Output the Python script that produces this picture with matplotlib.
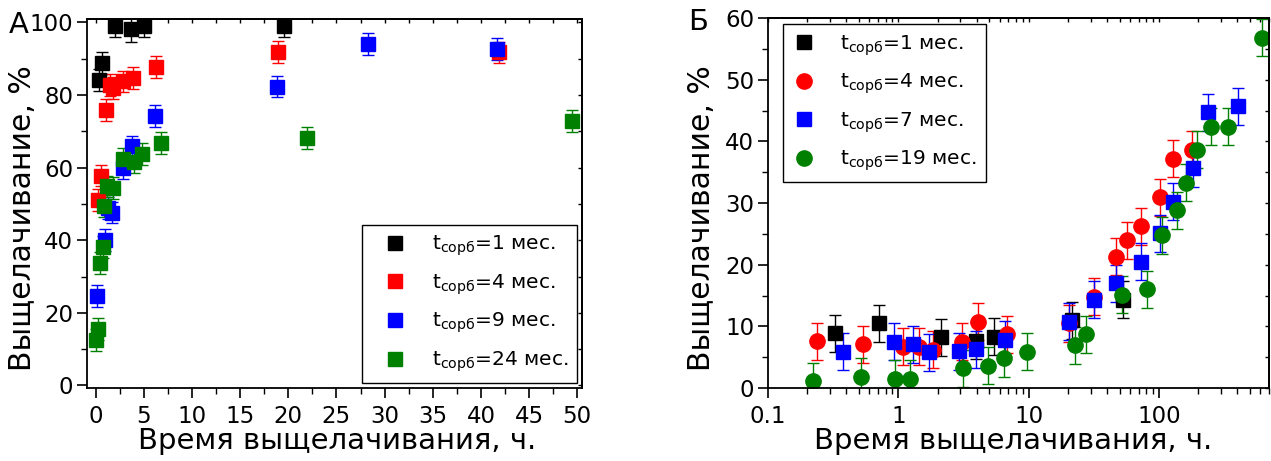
import matplotlib
matplotlib.use("Agg")
import matplotlib.pyplot as plt
from matplotlib.lines import Line2D
from matplotlib.ticker import MultipleLocator, LogLocator, NullFormatter, FixedLocator, FixedFormatter

plt.rcParams['font.family'] = ['DejaVu Sans']
plt.rcParams['mathtext.fontset'] = 'custom'
plt.rcParams['mathtext.rm'] = 'DejaVu Sans'
plt.rcParams['mathtext.it'] = 'DejaVu Sans'

# ---------------- Panel A data ----------------
a_labels = ["1 мес.", "4 мес.", "9 мес.", "24 мес."]
a_colors = ["black", "red", "blue", "green"]

a1_x = [0.34, 0.68, 2.0, 3.66, 4.97, 19.6]
a1_y = [84.0, 88.7, 99.0, 98.1, 99.0, 99.0]
a1_e = [3.0, 3.0, 3.0, 3.4, 3.0, 3.0]

a4_x = [0.27, 0.58, 1.07, 1.48, 1.83, 2.8, 3.9, 6.3, 18.9, 41.9]
a4_y = [51.1, 57.8, 75.9, 82.7, 81.8, 83.7, 84.6, 87.6, 91.9, 91.7]
a4_e = [3.0, 3.0, 3.0, 3.0, 3.0, 3.0, 3.0, 3.0, 3.0, 3.0]

a9_x = [0.17, 0.96, 1.3, 1.66, 2.8, 3.73, 6.15, 18.8, 28.3, 41.7]
a9_y = [24.7, 40.1, 48.9, 47.6, 59.8, 65.8, 74.3, 82.3, 94.1, 92.7]
a9_e = [3.0, 3.0, 3.0, 3.0, 3.0, 3.0, 3.0, 3.0, 3.0, 3.0]

a24_x = [0.03, 0.27, 0.45, 0.72, 0.86, 1.2, 1.82, 2.8, 4.0, 4.77, 6.77, 21.9, 49.5]
a24_y = [12.6, 15.6, 33.7, 38.1, 49.4, 54.8, 54.3, 62.3, 61.6, 63.8, 66.7, 68.2, 72.9]
a24_e = [3.0, 3.0, 3.0, 3.0, 3.0, 3.0, 3.0, 3.0, 3.0, 3.0, 3.0, 3.0, 3.0]

# ---------------- Panel B data ----------------
b_labels = ["1 мес.", "4 мес.", "7 мес.", "19 мес."]
b_colors = ["black", "red", "blue", "green"]
b_markers = ["s", "o", "s", "o"]

b1_x = [0.326, 0.71, 2.12, 3.94, 5.38, 21.6, 53.0]
b1_y = [8.9, 10.5, 8.2, 7.7, 8.3, 11.0, 14.3]
b1_e = [3.0, 3.0, 3.0, 3.0, 3.0, 3.0, 3.0]

b4_x = [0.238, 0.538, 1.09, 1.45, 1.86, 3.07, 4.12, 6.82, 20.3, 31.6, 47.0, 57.0, 72.5, 102.0, 128.0, 181.0]
b4_y = [7.6, 7.1, 6.7, 6.7, 6.2, 7.5, 10.75, 8.7, 10.5, 14.8, 21.3, 24.0, 26.2, 30.9, 37.2, 38.6]
b4_e = [3.0, 3.0, 3.0, 3.0, 3.0, 3.0, 3.0, 3.0, 3.0, 3.0, 3.0, 3.0, 3.0, 3.0, 3.0, 3.0]

b7_x = [0.377, 0.93, 1.29, 1.73, 2.9, 3.96, 6.62, 20.3, 31.6, 47.0, 72.5, 102.0, 128.0, 184.0, 240.0, 405.0]
b7_y = [5.9, 7.5, 7.1, 5.8, 6.0, 6.3, 7.8, 10.75, 14.3, 17.0, 20.5, 25.1, 30.2, 35.6, 44.7, 45.7]
b7_e = [3.0, 3.0, 3.0, 3.0, 3.0, 3.0, 3.0, 3.0, 3.0, 3.0, 3.0, 3.0, 3.0, 3.0, 3.0, 3.0]

b19_x = [0.222, 0.52, 0.944, 1.23, 3.16, 4.84, 6.53, 9.7, 22.9, 27.8, 52.5, 80.4, 105.0, 138.0, 162.0, 197.0, 253.0, 340.0, 624.0]
b19_y = [1.1, 1.8, 1.5, 1.5, 3.2, 3.6, 4.8, 5.9, 6.9, 8.7, 15.1, 16.0, 24.8, 28.8, 33.3, 38.6, 42.4, 42.4, 56.8]
b19_e = [3.0, 3.0, 3.0, 3.0, 3.0, 3.0, 3.0, 3.0, 3.0, 3.0, 3.0, 3.0, 3.0, 3.0, 3.0, 3.0, 3.0, 3.0, 3.0]

W, H = 1271, 461
fig = plt.figure(figsize=(W / 100, H / 100), dpi=100)

def rect(l, r, t, b):
    return [l / W, 1 - b / H, (r - l) / W, (b - t) / H]

axA = fig.add_axes(rect(87, 582, 19, 388))
axB = fig.add_axes(rect(768, 1269, 18, 388))

TICK_FS = 16.5
XLAB_FS = 21
YLAB_FS = 21.5
LEG_FS = 14.5

def style(ax):
    for s in ax.spines.values():
        s.set_linewidth(1.3)
    ax.tick_params(which='major', direction='out', length=7, width=1.2,
                   labelsize=TICK_FS, pad=3)
    ax.tick_params(which='minor', direction='out', length=4, width=1.0)
    ax.tick_params(axis='x', which='major', pad=5)

def mirror(ax):
    sec_x = ax.secondary_xaxis('top')
    sec_x.tick_params(which='both', direction='in', length=3, width=1.0,
                      labeltop=False)
    sec_x.spines['top'].set_linewidth(1.3)
    sec_y = ax.secondary_yaxis('right')
    sec_y.tick_params(which='both', direction='in', length=3, width=1.0,
                      labelright=False)
    sec_y.spines['right'].set_linewidth(1.3)
    return sec_x, sec_y

# Panel A
seriesA = [(a1_x, a1_y, a1_e), (a4_x, a4_y, a4_e), (a9_x, a9_y, a9_e), (a24_x, a24_y, a24_e)]
for (x, y, e), c in zip(seriesA, a_colors):
    axA.errorbar(x, y, yerr=e, fmt='s', color=c, ms=9.5, mec=c,
                 elinewidth=1.0, capsize=4, capthick=1.0)
axA.set_xlim(-0.9, 50.5)
axA.set_ylim(-0.7, 100.9)
axA.xaxis.set_major_locator(MultipleLocator(5))
axA.xaxis.set_minor_locator(MultipleLocator(2.5))
axA.yaxis.set_major_locator(MultipleLocator(20))
axA.yaxis.set_minor_locator(MultipleLocator(10))
style(axA)
sxA, syA = mirror(axA)
sxA.xaxis.set_major_locator(MultipleLocator(5))
sxA.xaxis.set_minor_locator(MultipleLocator(2.5))
syA.yaxis.set_major_locator(MultipleLocator(20))
syA.yaxis.set_minor_locator(MultipleLocator(10))
axA.set_xlabel("Время выщелачивания, ч.", fontsize=XLAB_FS)
axA.set_ylabel("Выщелачивание, %", fontsize=YLAB_FS)
axA.xaxis.set_label_coords(0.505, -0.105)
axA.yaxis.set_label_coords(-0.101, 0.46)
fig.text(9 / W, 1 - 25 / H, "А", fontsize=XLAB_FS, ha='left', va='center')

hA = [Line2D([], [], ls='none', marker='s', color=c, ms=9.5) for c in a_colors]
labA = [r"$\mathregular{t_{сорб}}$=" + l for l in a_labels]
legA = axA.legend(hA, labA, loc='lower right', fontsize=LEG_FS, frameon=True,
                  fancybox=False, edgecolor='black', framealpha=1,
                  handlelength=2.4, handletextpad=0.6, labelspacing=0.7,
                  borderaxespad=0.25, borderpad=0.45)
legA.get_frame().set_linewidth(1.0)

# Panel B
seriesB = [(b1_x, b1_y, b1_e), (b4_x, b4_y, b4_e), (b7_x, b7_y, b7_e), (b19_x, b19_y, b19_e)]
for (x, y, e), c, m in zip(seriesB, b_colors, b_markers):
    ms = 11 if m == 'o' else 9.5
    axB.errorbar(x, y, yerr=e, fmt=m, color=c, ms=ms, mec=c,
                 elinewidth=1.0, capsize=4, capthick=1.0)
axB.set_xscale('log')
axB.set_xlim(0.1, 700)
axB.set_ylim(0, 60)
axB.xaxis.set_major_locator(FixedLocator([0.1, 1, 10, 100]))
axB.xaxis.set_major_formatter(FixedFormatter(["0.1", "1", "10", "100"]))
axB.xaxis.set_minor_locator(LogLocator(base=10, subs=range(2, 10)))
axB.xaxis.set_minor_formatter(NullFormatter())
axB.yaxis.set_major_locator(MultipleLocator(10))
axB.yaxis.set_minor_locator(MultipleLocator(5))
style(axB)
sxB, syB = mirror(axB)
sxB.xaxis.set_major_locator(FixedLocator([0.1, 1, 10, 100]))
sxB.xaxis.set_minor_locator(LogLocator(base=10, subs=range(2, 10)))
sxB.xaxis.set_minor_formatter(NullFormatter())
syB.yaxis.set_major_locator(MultipleLocator(10))
syB.yaxis.set_minor_locator(MultipleLocator(5))
axB.set_xlabel("Время выщелачивания, ч.", fontsize=XLAB_FS)
axB.set_ylabel("Выщелачивание, %", fontsize=YLAB_FS)
axB.xaxis.set_label_coords(0.49, -0.105)
axB.yaxis.set_label_coords(-0.104, 0.46)
fig.text(688 / W, 1 - 22 / H, "Б", fontsize=XLAB_FS, ha='left', va='center')

hB = [Line2D([], [], ls='none', marker=m, color=c, ms=(11 if m == 'o' else 9.5))
      for c, m in zip(b_colors, b_markers)]
labB = [r"$\mathregular{t_{сорб}}$=" + l for l in b_labels]
legB = axB.legend(hB, labB, loc='upper left', fontsize=LEG_FS, frameon=True,
                  fancybox=False, edgecolor='black', framealpha=1,
                  handlelength=1.2, handletextpad=1.2, labelspacing=0.7,
                  borderaxespad=0.3, borderpad=0.45,
                  bbox_to_anchor=(0.018, 1.0))
legB.get_frame().set_linewidth(1.0)

fig.savefig("out.png", dpi=100)
